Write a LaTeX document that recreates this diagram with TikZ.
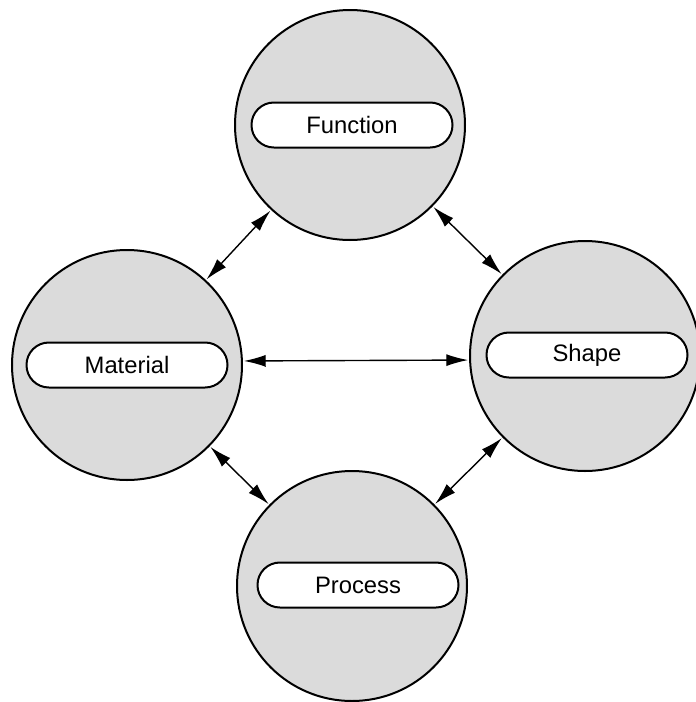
\documentclass[tikz,border=0pt]{standalone}
\usepackage{fontspec}
\setmainfont{Liberation Sans}
\usetikzlibrary{arrows.meta}
\begin{document}
\begin{tikzpicture}[x=0.5pt,y=-0.5pt,
  disc/.style={circle,draw=black,line width=1pt,fill=black!14,minimum size=115pt,inner sep=0pt},
  pill/.style={rectangle,draw=black,line width=1pt,fill=white,minimum width=100.5pt,minimum height=22.5pt,rounded corners=11.2pt,inner sep=0pt,font=\fontsize{11.9pt}{14pt}\selectfont},
  link/.style={line width=0.7pt,{Latex[length=11pt,width=6pt]}-{Latex[length=11pt,width=6pt]},shorten <=0.4pt,shorten >=0.4pt}]
\useasboundingbox (0,0) rectangle (696,702);
\node[disc] (F) at (350,125) {};
\node[disc] (M) at (127,365) {};
\node[disc] (S) at (585,356) {};
\node[disc] (P) at (352,586) {};
\node[pill] (Fl) at (352,125) {Function};
\node[pill] (Ml) at (127,365) {Material};
\node[pill] (Sl) at (587,355) {Shape};
\node[pill] (Pl) at (358,585) {Process};
\draw[link] (F) -- (M);
\draw[link] (F) -- (S);
\draw[link] (M.2) -- (S.182.5);
\draw[link] (M) -- (P);
\draw[link] (S) -- (P);
\end{tikzpicture}
\end{document}
